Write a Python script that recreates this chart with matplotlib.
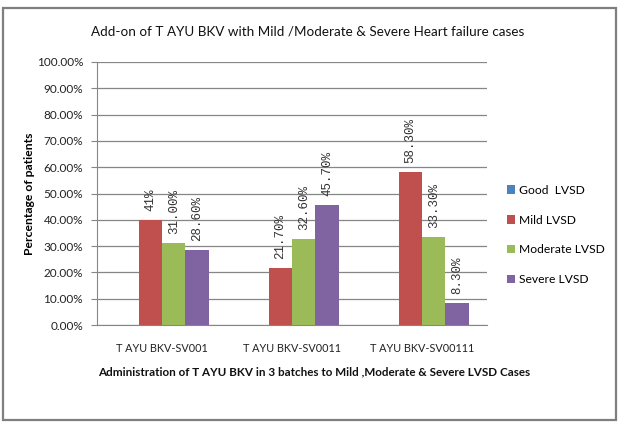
import matplotlib
matplotlib.use("Agg")
import matplotlib.pyplot as plt
import numpy as np
from matplotlib.patches import Rectangle

categories = ["T AYU BKV-SV001", "T AYU BKV-SV0011", "T AYU BKV-SV00111"]
series_names = ["Good  LVSD", "Mild LVSD", "Moderate LVSD", "Severe LVSD"]
good = [0.0, 0.0, 0.0]
mild = [40.0, 21.7, 58.3]
moderate = [31.0, 32.6, 33.3]
severe = [28.6, 45.7, 8.3]
mild_labels = ["41%", "21.70%", "58.30%"]
moderate_labels = ["31.00%", "32.60%", "33.30%"]
severe_labels = ["28.60%", "45.70%", "8.30%"]
yticks = [0, 10, 20, 30, 40, 50, 60, 70, 80, 90, 100]
ytick_labels = ["0.00%", "10.00%", "20.00%", "30.00%", "40.00%", "50.00%",
                "60.00%", "70.00%", "80.00%", "90.00%", "100.00%"]
colors = ["#4F81BD", "#C0504D", "#9BBB59", "#8064A2"]

plt.rcParams['font.family'] = ['Lato', 'DejaVu Sans']

fig = plt.figure(figsize=(6.23, 4.24), dpi=100)
W, H = 623, 424
fig.patches.append(Rectangle((3 / W, 1 - 420 / H), 613 / W, 412 / H, transform=fig.transFigure,
                             fill=False, edgecolor="#7f7f7f", linewidth=1.6))

ax = fig.add_axes([97 / W, 1 - 325 / H, 390 / W, 263 / H])
x = np.arange(len(categories))
bw = 0.18
all_series = [good, mild, moderate, severe]
all_labels = [None, mild_labels, moderate_labels, severe_labels]
for i, (vals, name, col) in enumerate(zip(all_series, series_names, colors)):
    pos = x + (i - 1.5) * bw
    ax.bar(pos, vals, width=bw, color=col, label=name, zorder=3)
    if all_labels[i] is not None:
        for p, v, lab in zip(pos, vals, all_labels[i]):
            ax.annotate(lab, (p, v), xytext=(0, 6.5), textcoords="offset points",
                        rotation=90, ha="center", va="bottom", fontsize=9,
                        family=["Liberation Mono", "DejaVu Sans Mono"], color="#333333")

ax.set_xlim(-0.5, 2.5)
ax.set_ylim(0, 100)
ax.set_yticks(yticks)
ax.set_yticklabels(ytick_labels, fontsize=8.5, color="#222222")
ax.set_xticks(x)
ax.set_xticklabels(categories, fontsize=7.8, color="#222222")
ax.tick_params(axis="x", length=0, pad=13)
ax.tick_params(axis="y", length=4, color="#868686", pad=6)
ax.grid(axis="y", color="#868686", linewidth=0.9, zorder=0)
for s in ["top", "right"]:
    ax.spines[s].set_visible(False)
ax.spines["left"].set_color("#868686")
ax.spines["bottom"].set_color("#868686")

ax.set_ylabel("Percentage of patients", fontsize=8.7, fontweight="bold", labelpad=1)
fig.text(314 / W, 1 - 372 / H,
         "Administration of T AYU BKV in 3 batches to Mild ,Moderate & Severe LVSD Cases",
         ha="center", va="center", fontsize=8.4, fontweight="bold", color="#111111")
fig.text(308 / W, 1 - 32 / H, "Add-on of T AYU BKV with Mild /Moderate & Severe Heart failure cases",
         ha="center", va="center", fontsize=9.7, color="#111111")

leg = ax.legend(loc="upper left", bbox_to_anchor=(502 / W, 1 - 180 / H), bbox_transform=fig.transFigure,
                frameon=False, fontsize=8.7, handlelength=0.7, handleheight=0.7, handletextpad=0.3,
                labelspacing=1.55, borderaxespad=0)

fig.savefig("out.png", dpi=100)
